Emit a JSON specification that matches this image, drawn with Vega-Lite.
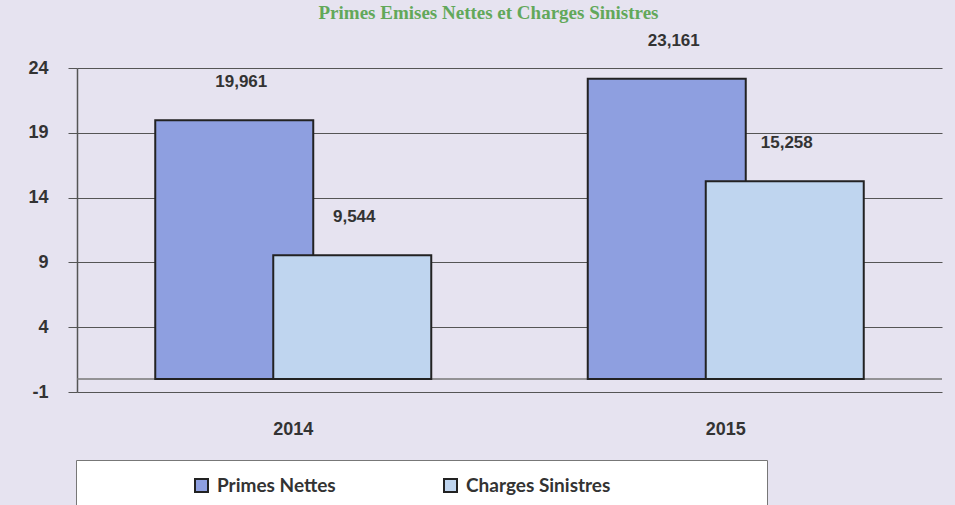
{
  "$schema": "https://vega.github.io/schema/vega-lite/v6.json",
  "width": 865,
  "height": 324,
  "autosize": {"type": "none"},
  "padding": {"left": 77, "top": 68, "right": 13, "bottom": 113},
  "background": "#e6e3f0",
  "title": {
    "text": "Primes Emises Nettes et Charges Sinistres",
    "font": "Liberation Serif",
    "fontSize": 19,
    "fontWeight": "bold",
    "color": "#62a85a",
    "offset": 9,
    "dx": -21,
    "anchor": "middle"
  },
  "data": {
    "values": [
      {"year": "2014", "series": "Primes Nettes", "value": 19.961},
      {"year": "2014", "series": "Charges Sinistres", "value": 9.544},
      {"year": "2015", "series": "Primes Nettes", "value": 23.161},
      {"year": "2015", "series": "Charges Sinistres", "value": 15.258}
    ]
  },
  "config": {
    "locale": {"number": {"decimal": ",", "thousands": " ", "grouping": [3], "currency": ["", ""], "minus": "-"}},
    "view": {"stroke": null}
  },
  "layer": [
    {
      "data": {"values": [{"value": 0}]},
      "mark": {"type": "rule", "color": "#777777", "strokeWidth": 1.5},
      "encoding": {
        "y": {"field": "value", "type": "quantitative", "scale": {"domain": [-1, 24], "nice": false, "zero": false}, "axis": {"title": null}}
      }
    },
    {
      "transform": [{"filter": "datum.series === 'Primes Nettes'"}],
      "mark": {"type": "bar", "width": 158, "xOffset": -59, "stroke": "#222222", "strokeWidth": 2},
      "encoding": {
        "x": {
          "field": "year", "type": "nominal",
          "scale": {"paddingInner": 0, "paddingOuter": 0},
          "axis": {"title": null, "labelAngle": 0, "ticks": false, "domain": false, "labelFont": "Liberation Sans", "labelFontWeight": "bold", "labelFontSize": 18, "labelColor": "#333333", "labelPadding": 28}
        },
        "y": {
          "field": "value", "type": "quantitative",
          "scale": {"domain": [-1, 24], "nice": false, "zero": false},
          "axis": {"title": null, "values": [-1, 4, 9, 14, 19, 24], "format": "d", "tickSize": 9, "tickColor": "#555555", "domainColor": "#555555", "domainWidth": 1.5, "grid": true, "gridColor": "#555555", "gridWidth": 1.2, "labelFont": "Liberation Sans", "labelFontWeight": "bold", "labelFontSize": 18, "labelColor": "#333333", "labelPadding": 20}
        },
        "color": {
          "field": "series", "type": "nominal",
          "scale": {"domain": ["Primes Nettes", "Charges Sinistres"], "range": ["#8e9fe0", "#bfd5ef"]},
          "legend": {
            "orient": "none", "legendX": -1, "legendY": 392, "direction": "horizontal",
            "title": "\u00a0", "titleOrient": "left", "titleFontSize": 1, "titlePadding": 100,
            "padding": 16, "fillColor": "#ffffff", "strokeColor": "#777777",
            "symbolType": "square", "symbolSize": 169, "symbolStrokeColor": "#222222", "symbolStrokeWidth": 2,
            "labelFont": "Lato", "labelFontWeight": "bold", "labelFontSize": 19, "labelColor": "#333333",
            "labelOffset": 6, "columnPadding": 104, "labelLimit": 400,
            "labelExpr": "datum.value == 'Charges Sinistres' ? datum.label + '\u2800\u2800\u2800\u2800\u2800\u2800\u2800\u2800\u2800\u2800' : datum.label"
          }
        }
      }
    },
    {
      "transform": [{"filter": "datum.series === 'Charges Sinistres'"}],
      "mark": {"type": "bar", "width": 158, "xOffset": 59, "stroke": "#222222", "strokeWidth": 2},
      "encoding": {
        "x": {"field": "year", "type": "nominal"},
        "y": {"field": "value", "type": "quantitative", "scale": {"domain": [-1, 24], "nice": false, "zero": false}, "axis": {"title": null}},
        "color": {"field": "series", "type": "nominal"}
      }
    },
    {
      "transform": [{"filter": "datum.series === 'Primes Nettes'"}],
      "mark": {"type": "text", "xOffset": -52, "dy": -38, "baseline": "middle", "font": "Liberation Sans", "fontWeight": "bold", "fontSize": 17, "fill": "#333333"},
      "encoding": {
        "x": {"field": "year", "type": "nominal"},
        "y": {"field": "value", "type": "quantitative", "scale": {"domain": [-1, 24], "nice": false, "zero": false}, "axis": {"title": null}},
        "text": {"field": "value", "type": "quantitative", "format": ".3f"}
      }
    },
    {
      "transform": [{"filter": "datum.series === 'Charges Sinistres'"}],
      "mark": {"type": "text", "xOffset": 61, "dy": -38, "baseline": "middle", "font": "Liberation Sans", "fontWeight": "bold", "fontSize": 17, "fill": "#333333"},
      "encoding": {
        "x": {"field": "year", "type": "nominal"},
        "y": {"field": "value", "type": "quantitative", "scale": {"domain": [-1, 24], "nice": false, "zero": false}, "axis": {"title": null}},
        "text": {"field": "value", "type": "quantitative", "format": ".3f"}
      }
    }
  ]
}
